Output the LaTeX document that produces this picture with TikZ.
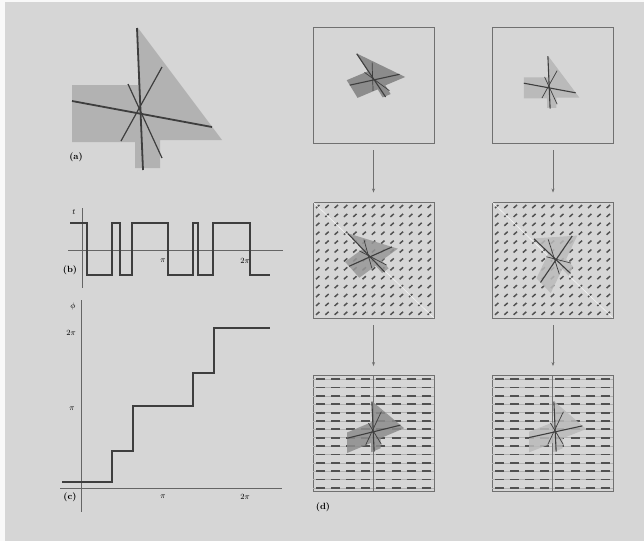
\documentclass[tikz,border=0pt]{standalone}
\usepackage{tikz}
\usetikzlibrary{arrows.meta}
\definecolor{paper}{HTML}{D6D6D6}
\definecolor{ink}{HTML}{3E3E3E}
\definecolor{frame}{HTML}{707070}
\definecolor{sectorgray}{HTML}{B2B2B2}
\definecolor{sectordark}{HTML}{8C8C8C}
\definecolor{sectorlight}{HTML}{BABABA}

% the sector picture of (a), drawn round its crossing point
\newcommand{\sectors}[3]{%
  \fill[#1] (-2,-86) -- (82,26) -- (20,26) -- (20,54) -- (-5,54) -- (-5,28)
    -- (-68,28) -- (-68,-29) -- (-2,-29) -- cycle;
  \draw[ink,line width=#2] (-3,-86) -- (3,56);
  \draw[ink,line width=#2] (-68,-13) -- (72,13);
  \draw[ink,line width=#3] (22,-47) -- (-19,27);
  \draw[ink,line width=#3] (-12,-30) -- (22,44);
}

\begin{document}
\begin{tikzpicture}[
  x=1pt,y=-1pt,
  font=\fontsize{9}{10}\selectfont,
  panel/.style={draw=frame,line width=0.9pt,minimum width=121pt,minimum height=116pt,inner sep=0pt},
  tag/.style={inner sep=0pt,font=\fontsize{9}{10}\selectfont\bfseries},
  tick/.style={inner sep=0pt,font=\fontsize{8}{9}\selectfont},
  axis/.style={draw=ink!80,line width=0.7pt},
  curve/.style={draw=ink,line width=1.1pt},
  flow/.style={-{Stealth[length=4pt,width=3pt]},draw=frame,line width=0.6pt,shorten <=7pt,shorten >=9pt},
]
\fill[white!85!paper] (0,0) rectangle (644,541);
\fill[paper] (5,2) rectangle (644,541);
\useasboundingbox (0,0) rectangle (644,541);

% (a)
\begin{scope}[shift={(140,114)}]
  \sectors{sectorgray}{1.8pt}{1.2pt}
\end{scope}
\node[tag] (taga) at (76,157) {(a)};

% (b)
\draw[axis] (82,208) -- (82,288);
\draw[axis] (68,250) -- (283,250);
\draw[curve] (70,223) -- (87,223) -- (87,275) -- (112,275) -- (112,223) -- (120,223)
  -- (120,275) -- (132,275) -- (132,223) -- (168,223) -- (168,275) -- (193,275)
  -- (193,223) -- (198,223) -- (198,275) -- (213,275) -- (213,223) -- (250,223)
  -- (250,275) -- (270,275);
\node[tick] (tb) at (74,212) {$t$};
\node[tick] (pib) at (163,261) {$\pi$};
\node[tick] (twopib) at (245,261) {$2\pi$};
\node[tag] (tagb) at (70,270) {(b)};

% (c)
\draw[axis] (81,300) -- (81,512);
\draw[axis] (60,488) -- (282,488);
\draw[curve] (62,482) -- (112,482) -- (112,451) -- (133,451) -- (133,406) -- (193,406)
  -- (193,373) -- (214,373) -- (214,328) -- (270,328);
\node[tick] (phic) at (73,306) {$\phi$};
\node[tick] (twopic) at (71,333) {$2\pi$};
\node[tick] (pic) at (72,409) {$\pi$};
\node[tick] (pix) at (163,497) {$\pi$};
\node[tick] (twopix) at (245,497) {$2\pi$};
\node[tag] (tagc) at (70,497) {(c)};

% (d)
\node[panel] (rawL) at (373.5,85) {};
\node[panel] (rawR) at (553,85) {};
\node[panel] (diagL) at (373.5,260) {};
\node[panel] (diagR) at (553,260) {};
\node[panel] (gridL) at (373.5,433.5) {};
\node[panel] (gridR) at (553,433.5) {};

\draw[flow] (rawL) -- (diagL);
\draw[flow] (rawR) -- (diagR);
\draw[flow] (diagL) -- (gridL);
\draw[flow] (diagR) -- (gridR);

% vector fields
\foreach \ox in {313,492}{
  \foreach \i in {0,...,12}{
    \foreach \j in {0,...,12}{
      \draw[ink!90,line width=1.5pt] ({\ox+4.7+9.3*\i-1.7},{206.5+8.9*\j+1.5}) -- ++(3.4,-3);
    }
  }
  \draw[white!70!paper,line width=0.6pt] (\ox,202) -- (\ox+121,318);
  \foreach \j in {0,...,13}{
    \draw[ink!40,line width=0.5pt] (\ox,{379.2+8.36*\j}) -- (\ox+121,{379.2+8.36*\j});
    \foreach \i in {0,...,7}{
      \draw[ink!90,line width=1.8pt] ({\ox+3+15.1*\i},{379.2+8.36*\j}) -- ++(9,0);
    }
  }
  \draw[frame,line width=0.8pt] (\ox+60,375) -- (\ox+60,492);
}

\begin{scope}[shift={(374,80)},cm={0.32,0.135,-0.19,0.31,(0,0)}]
  \sectors{sectordark}{1.1pt}{0.7pt}
\end{scope}
\begin{scope}[shift={(549,88)},scale=0.37]
  \sectors{sectorlight}{1.1pt}{0.7pt}
\end{scope}
\begin{scope}[shift={(370,257)},cm={0.26,0.19,-0.25,0.28,(0,0)}]
  \sectors{sectordark!90,opacity=0.85}{1.1pt}{0.7pt}
\end{scope}
\begin{scope}[shift={(556,260)},cm={0.18,0.38,-0.25,0.26,(0,0)}]
  \sectors{sectorlight,opacity=0.85}{1.1pt}{0.7pt}
\end{scope}
\begin{scope}[shift={(373,432)},cm={0.38,0.16,0,0.36,(0,0)}]
  \sectors{sectordark,opacity=0.85}{1.1pt}{0.7pt}
\end{scope}
\begin{scope}[shift={(555,432)},cm={0.38,0.15,0,0.36,(0,0)}]
  \sectors{sectorlight,opacity=0.85}{1.1pt}{0.7pt}
\end{scope}
\node[tag] (tagd) at (323,507) {(d)};
\end{tikzpicture}
\end{document}
